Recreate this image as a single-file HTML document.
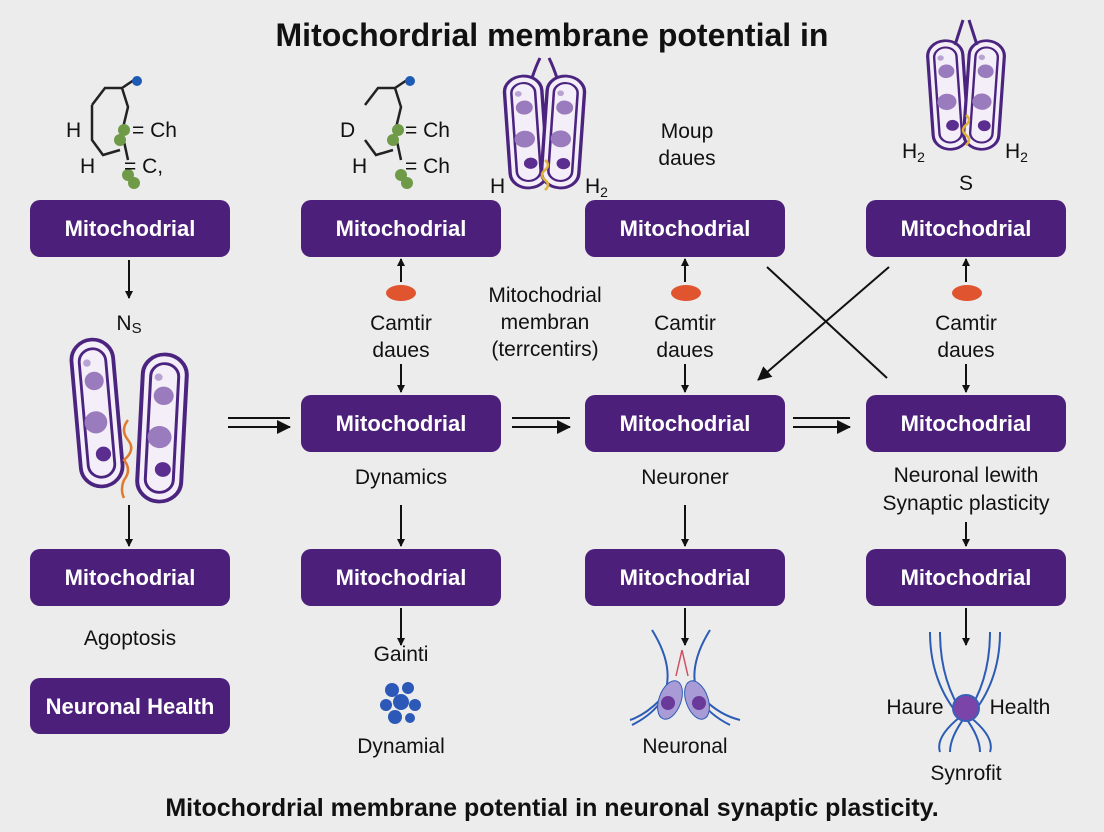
<!DOCTYPE html>
<html><head><meta charset="utf-8"><style>
html,body{margin:0;padding:0;background:#ececec;}
svg{display:block;font-family:"Liberation Sans",sans-serif;}
</style></head><body>
<svg width="1104" height="832" viewBox="0 0 1104 832" xmlns="http://www.w3.org/2000/svg">
<defs>
<marker id="ah" markerWidth="8" markerHeight="8" refX="7" refY="4" orient="auto" markerUnits="userSpaceOnUse"><path d="M0,0 L8,4 L0,8 z" fill="#111"/></marker>
<marker id="ah2" markerWidth="14" markerHeight="14" refX="13" refY="7" orient="auto" markerUnits="userSpaceOnUse"><path d="M0,0 L14,7 L0,14 z" fill="#111"/></marker>
<g id="mito">
<rect x="-22" y="-80" width="44" height="160" rx="22" fill="#f3eef7" stroke="#4b2480" stroke-width="4"/>
<rect x="-14" y="-70" width="28" height="140" rx="14" fill="none" stroke="#4b2480" stroke-width="3"/>
<circle cx="0" cy="-35" r="10" fill="#9a7bbd"/><circle cx="-2" cy="10" r="12" fill="#9a7bbd"/><circle cx="3" cy="45" r="8" fill="#5b2d8e"/><circle cx="-6" cy="-55" r="4" fill="#b9a3d2"/>
</g>
</defs>
<rect width="1104" height="832" fill="#ececec"/>
<text x="552" y="46" text-anchor="middle" font-size="32" font-weight="bold" fill="#111">Mitochordrial membrane potential in</text>

<g fill="none" stroke="#222" stroke-width="2.5">
<path d="M92,105 L105,88 L122,88 L128,107 L122,132 L128,160 M92,105 L92,140 L103,155 L120,150 M122,88 L137,78"/>
<path d="M365,105 L378,88 L395,88 L401,107 L395,132 L401,160 M365,140 L376,155 L393,150 M395,88 L410,78"/>
</g>
<circle cx="137" cy="81" r="5" fill="#1e5bb5"/><circle cx="410" cy="81" r="5" fill="#1e5bb5"/>
<g fill="#6f9a48"><circle cx="124" cy="130" r="6"/><circle cx="120" cy="140" r="6"/><circle cx="128" cy="175" r="6"/><circle cx="134" cy="183" r="6"/>
<circle cx="398" cy="130" r="6"/><circle cx="393" cy="140" r="6"/><circle cx="401" cy="175" r="6"/><circle cx="407" cy="183" r="6"/></g>
<g font-size="21" fill="#111">
<text x="66" y="137">H</text><text x="132" y="137">= Ch</text><text x="80" y="173">H</text><text x="124" y="173">= C,</text>
<text x="340" y="137">D</text><text x="405" y="137">= Ch</text><text x="352" y="173">H</text><text x="405" y="173">= Ch</text>
<text x="687" y="138" text-anchor="middle">Moup</text><text x="687" y="165" text-anchor="middle">daues</text>
<text x="490" y="193">H</text><text x="585" y="193">H<tspan font-size="14" dy="4">2</tspan></text>
<text x="902" y="158">H<tspan font-size="14" dy="4">2</tspan></text><text x="1005" y="158">H<tspan font-size="14" dy="4">2</tspan></text>
<text x="966" y="190" text-anchor="middle">S</text>
</g>
<g transform="translate(526,132) rotate(-4) scale(0.85,0.7)"><use href="#mito"/></g>
<g transform="translate(563,132) rotate(4) scale(0.85,0.7)"><use href="#mito"/></g>
<path d="M532,78 Q536,66 540,58 M557,78 Q553,66 549,58" stroke="#4b2480" stroke-width="3" fill="none"/>
<path d="M545,160 q6,5 0,10 q-6,5 0,10 q6,5 0,10" stroke="#e0b03a" stroke-width="2.5" fill="none"/>
<g transform="translate(948,95) rotate(-4) scale(0.8,0.68)"><use href="#mito"/></g>
<g transform="translate(984,95) rotate(4) scale(0.8,0.68)"><use href="#mito"/></g>
<path d="M955,45 L963,20 M977,45 L969,20" stroke="#4b2480" stroke-width="3"/>
<path d="M966,115 q6,5 0,10 q-6,5 0,10 q6,5 0,10" stroke="#e0b03a" stroke-width="2.5" fill="none"/>

<g fill="#4b1f7a">
<rect x="30" y="200" width="200" height="57" rx="10"/><rect x="301" y="200" width="200" height="57" rx="10"/><rect x="585" y="200" width="200" height="57" rx="10"/><rect x="866" y="200" width="200" height="57" rx="10"/>
<rect x="301" y="395" width="200" height="57" rx="10"/><rect x="585" y="395" width="200" height="57" rx="10"/><rect x="866" y="395" width="200" height="57" rx="10"/>
<rect x="30" y="549" width="200" height="57" rx="10"/><rect x="301" y="549" width="200" height="57" rx="10"/><rect x="585" y="549" width="200" height="57" rx="10"/><rect x="866" y="549" width="200" height="57" rx="10"/>
<rect x="30" y="678" width="200" height="56" rx="10"/>
</g>
<g font-size="22" font-weight="bold" fill="#fff" text-anchor="middle">
<text x="130" y="236">Mitochodrial</text><text x="401" y="236">Mitochodrial</text><text x="685" y="236">Mitochodrial</text><text x="966" y="236">Mitochodrial</text>
<text x="401" y="431">Mitochodrial</text><text x="685" y="431">Mitochodrial</text><text x="966" y="431">Mitochodrial</text>
<text x="130" y="585">Mitochodrial</text><text x="401" y="585">Mitochodrial</text><text x="685" y="585">Mitochodrial</text><text x="966" y="585">Mitochodrial</text>
<text x="130" y="714">Neuronal Health</text>
</g>

<g stroke="#111" stroke-width="2" marker-end="url(#ah)">
<line x1="129" y1="260" x2="129" y2="298"/>
<line x1="401" y1="282" x2="401" y2="259"/><line x1="685" y1="282" x2="685" y2="259"/><line x1="966" y1="282" x2="966" y2="259"/>
<line x1="401" y1="364" x2="401" y2="392"/><line x1="685" y1="364" x2="685" y2="392"/><line x1="966" y1="364" x2="966" y2="392"/>
<line x1="129" y1="505" x2="129" y2="546"/><line x1="401" y1="505" x2="401" y2="546"/><line x1="685" y1="505" x2="685" y2="546"/><line x1="966" y1="522" x2="966" y2="546"/>
<line x1="401" y1="608" x2="401" y2="645"/><line x1="685" y1="608" x2="685" y2="645"/><line x1="966" y1="608" x2="966" y2="645"/>
</g>
<g stroke="#111" stroke-width="2">
<line x1="228" y1="418" x2="290" y2="418"/><line x1="228" y1="427" x2="290" y2="427" marker-end="url(#ah2)"/>
<line x1="512" y1="418" x2="570" y2="418"/><line x1="512" y1="427" x2="570" y2="427" marker-end="url(#ah2)"/>
<line x1="793" y1="418" x2="850" y2="418"/><line x1="793" y1="427" x2="850" y2="427" marker-end="url(#ah2)"/>
<line x1="767" y1="267" x2="887" y2="378"/>
<line x1="889" y1="267" x2="758" y2="380" marker-end="url(#ah2)"/>
</g>
<g fill="#e0552f"><ellipse cx="401" cy="293" rx="15" ry="8"/><ellipse cx="686" cy="293" rx="15" ry="8"/><ellipse cx="967" cy="293" rx="15" ry="8"/></g>

<g font-size="21" fill="#111" text-anchor="middle">
<text x="129" y="330">N<tspan font-size="15" dy="3">S</tspan></text>
<text x="401" y="330">Camtir</text><text x="401" y="357">daues</text>
<text x="685" y="330">Camtir</text><text x="685" y="357">daues</text>
<text x="966" y="330">Camtir</text><text x="966" y="357">daues</text>
<text x="545" y="302">Mitochodrial</text><text x="545" y="329">membran</text><text x="545" y="356">(terrcentirs)</text>
<text x="401" y="484">Dynamics</text><text x="685" y="484">Neuroner</text>
<text x="966" y="482">Neuronal lewith</text><text x="966" y="510">Synaptic plasticity</text>
<text x="130" y="645">Agoptosis</text>
<text x="401" y="661">Gainti</text><text x="401" y="753">Dynamial</text>
<text x="685" y="753">Neuronal</text>
<text x="915" y="714">Haure</text><text x="1020" y="714">Health</text>
<text x="966" y="780">Synrofit</text>
</g>

<g transform="translate(97,413) rotate(-5) scale(0.95,0.92)"><use href="#mito"/></g>
<g transform="translate(162,428) rotate(3) scale(1,0.92)"><use href="#mito"/></g>
<path d="M128,420 q-8,10 0,20 q8,10 -4,20 q8,10 0,20 q-4,10 0,18" stroke="#e07a2f" stroke-width="2.5" fill="none"/>

<g fill="#2c58b8"><circle cx="392" cy="690" r="7"/><circle cx="408" cy="688" r="6"/><circle cx="386" cy="705" r="6"/><circle cx="401" cy="702" r="8"/><circle cx="415" cy="705" r="6"/><circle cx="395" cy="717" r="7"/><circle cx="410" cy="718" r="5"/></g>

<g fill="none" stroke="#2d5cb5" stroke-width="2">
<path d="M652,630 q25,40 10,70 q-10,15 -30,25"/><path d="M710,630 q-25,40 -10,70 q10,15 30,25"/>
<path d="M660,700 q-15,15 -30,20"/><path d="M705,700 q15,15 35,20"/>
<path d="M930,632 q0,50 30,85 q-25,20 -20,35"/><path d="M940,632 q0,50 25,85 q-15,20 -15,35"/>
<path d="M1000,632 q0,50 -30,85 q25,20 20,35"/><path d="M990,632 q0,50 -25,85 q15,20 15,35"/>
</g>
<path d="M682,650 L676,676 M682,650 L688,676" stroke="#d05060" stroke-width="1.5" fill="none"/>
<ellipse cx="670" cy="700" rx="11" ry="20" transform="rotate(20 670 700)" fill="#a99bd6" stroke="#2d5cb5"/>
<ellipse cx="697" cy="700" rx="11" ry="20" transform="rotate(-20 697 700)" fill="#a99bd6" stroke="#2d5cb5"/>
<circle cx="668" cy="703" r="7" fill="#6a3a9a"/><circle cx="699" cy="703" r="7" fill="#6a3a9a"/>
<circle cx="966" cy="708" r="13" fill="#7b44a8" stroke="#3b5fb8" stroke-width="2"/>

<text x="552" y="816" text-anchor="middle" font-size="25" font-weight="bold" fill="#111">Mitochordrial membrane potential in neuronal synaptic plasticity.</text>
</svg>
</body></html>
